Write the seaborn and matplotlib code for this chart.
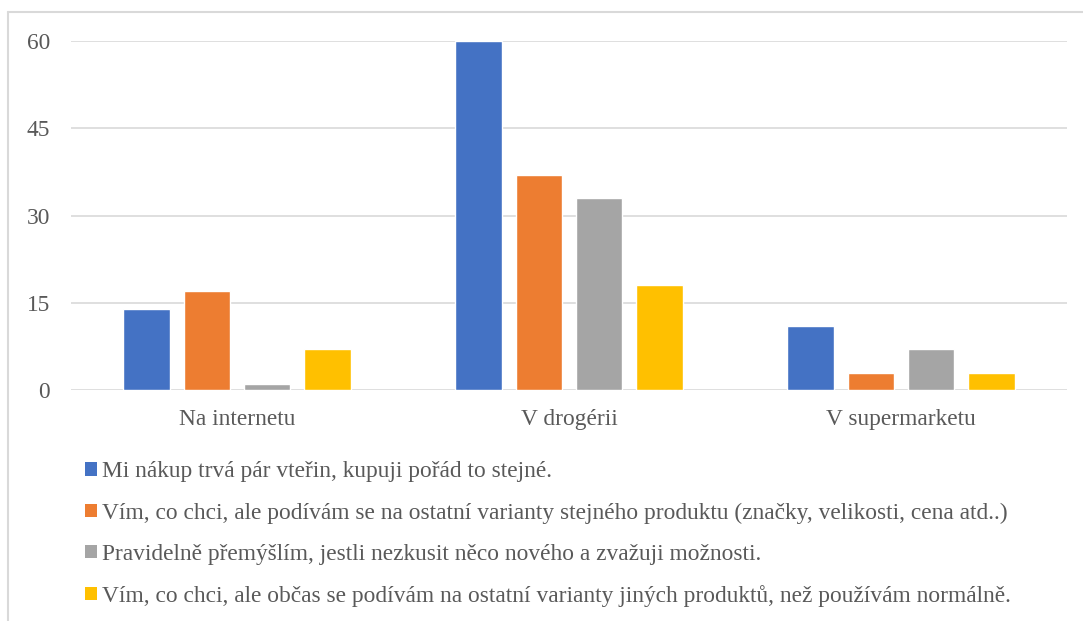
import matplotlib
matplotlib.use("Agg")
import matplotlib.pyplot as plt
from matplotlib.patches import Patch
from matplotlib.lines import Line2D
import seaborn as sns
import pandas as pd

places = ["Na internetu", "V drogérii", "V supermarketu"]
answers = [
    "Mi nákup trvá pár vteřin, kupuji pořád to stejné.",
    "Vím, co chci, ale podívám se na ostatní varianty stejného produktu (značky, velikosti, cena atd..)",
    "Pravidelně přemýšlím, jestli nezkusit něco nového a zvažuji možnosti.",
    "Vím, co chci, ale občas se podívám na ostatní varianty jiných produktů, než používám normálně.",
]
values_a1 = [14, 60, 11]
values_a2 = [17, 37, 3]
values_a3 = [1, 33, 7]
values_a4 = [7, 18, 3]
colors = ["#4472C4", "#ED7D31", "#A5A5A5", "#FFC000"]
yticks = [0, 15, 30, 45, 60]

rows = []
for ans, vals in zip(answers, [values_a1, values_a2, values_a3, values_a4]):
    for p, v in zip(places, vals):
        rows.append({"place": p, "answer": ans, "count": v})
df = pd.DataFrame(rows)

sns.set_theme(style="white")
plt.rcParams["font.family"] = ["Liberation Serif", "DejaVu Serif"]
text_color = "#595959"
fs = 16.8

fig = plt.figure(figsize=(10.83, 6.21), dpi=100)
ax = fig.add_axes([71 / 1083, 1 - 390 / 621, (1067 - 71) / 1083, (390 - 41) / 621])

sns.barplot(data=df, x="place", y="count", hue="answer", hue_order=answers,
            order=places, palette=colors, width=0.723, gap=0.217,
            saturation=1, legend=False, ax=ax, zorder=3)

ax.set_xlim(-0.5, 2.5)
ax.set_ylim(0, 60)
ax.set_yticks(yticks)
ax.set_yticklabels([str(t) for t in yticks])
ax.set_xlabel("")
ax.set_ylabel("")
for s in ax.spines.values():
    s.set_visible(False)
ax.yaxis.grid(True, color="#D9D9D9", linewidth=1.2, zorder=0)
ax.set_axisbelow(True)
ax.tick_params(axis="y", length=0, pad=15, labelsize=fs, labelcolor=text_color)
ax.tick_params(axis="x", length=0, pad=14, labelsize=fs, labelcolor=text_color)

handles = [Patch(facecolor=c, edgecolor="none") for c in colors]
leg = fig.legend(handles, answers, loc="upper left",
                 bbox_to_anchor=(76 / 1083, 1 - 452 / 621),
                 frameon=False, fontsize=fs, labelcolor=text_color,
                 handlelength=0.5, handleheight=0.5, handletextpad=0.2,
                 labelspacing=0.86, borderaxespad=0)

# outer border (top and left visible)
fig.add_artist(Line2D([8 / 1083, 1.01], [1 - 12 / 621, 1 - 12 / 621],
                      transform=fig.transFigure, color="#D9D9D9", linewidth=1.5))
fig.add_artist(Line2D([8 / 1083, 8 / 1083], [1 - 12 / 621, -0.01],
                      transform=fig.transFigure, color="#D9D9D9", linewidth=1.5))

fig.savefig("out.png", dpi=100, facecolor="white")
